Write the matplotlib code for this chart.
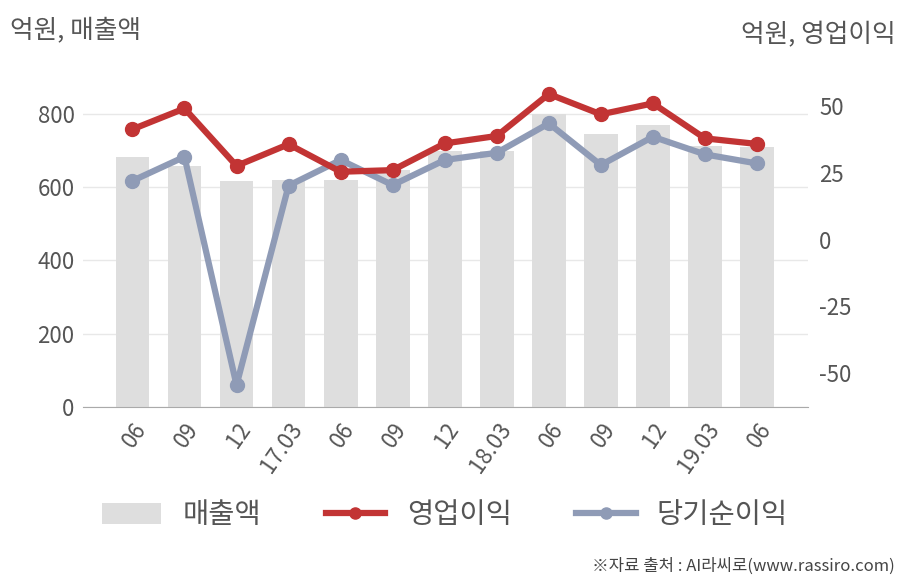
import matplotlib
matplotlib.use("Agg")
import matplotlib.pyplot as plt
from matplotlib.patches import Patch
from matplotlib.lines import Line2D

plt.rcParams['font.family'] = ['Noto Sans CJK KR', 'DejaVu Sans']
plt.rcParams['axes.unicode_minus'] = False

categories = ['06', '09', '12', '17.03', '06', '09', '12', '18.03', '06', '09', '12', '19.03', '06']
sales = [681, 656, 616, 619, 619, 645, 698, 699, 799, 744, 769, 713, 709]
op_income = [41.3, 49.1, 27.6, 35.7, 25.4, 26.0, 36.0, 38.8, 54.5, 46.9, 51.0, 37.9, 35.8]
net_income = [22.0, 31.0, -54.5, 20.2, 29.8, 20.4, 29.8, 32.5, 43.5, 27.9, 38.5, 31.9, 28.5]
left_ticks = [0, 200, 400, 600, 800]
right_ticks = [-50, -25, 0, 25, 50]

bar_color = '#dedede'
red = '#c23434'
blue = '#8f9bb6'
text_color = '#555555'

fig = plt.figure(figsize=(9.08, 5.8), dpi=100)
ax = fig.add_axes([0.0914, 0.2983, 0.7985, 0.581])
x = list(range(len(categories)))
ax.bar(x, sales, width=0.65, color=bar_color, zorder=2)
ax.set_xlim(-0.95, 12.98)
ax.set_ylim(0, 919)
ax.set_yticks(left_ticks)
ax.grid(axis='y', color='#e8e8e8', linewidth=1, zorder=0)
ax.set_axisbelow(True)
for s in ['left', 'right', 'top']:
    ax.spines[s].set_visible(False)
ax.spines['bottom'].set_color('#aaaaaa')
ax.tick_params(axis='both', length=0, labelsize=16, colors=text_color, pad=6)
ax.set_xticks(x)
ax.set_xticklabels(categories, rotation=55, ha='right', rotation_mode='anchor')
ax.tick_params(axis='x', pad=8)

ax2 = ax.twinx()
ax2.set_ylim(-62.7, 63.5)
ax2.set_yticks(right_ticks)
for s in ['left', 'right', 'top', 'bottom']:
    ax2.spines[s].set_visible(False)
ax2.tick_params(axis='y', length=0, labelsize=16, colors=text_color, pad=8)
ax2.plot(x, net_income, color=blue, linewidth=4.5, marker='o', markersize=10, zorder=3)
ax2.plot(x, op_income, color=red, linewidth=4.5, marker='o', markersize=10, zorder=4)

fig.text(0.011, 0.947, '억원, 매출액', fontsize=18.5, color=text_color, ha='left', va='center')
fig.text(0.986, 0.94, '억원, 영업이익', fontsize=18.5, color=text_color, ha='right', va='center')

handles = [
    Patch(facecolor=bar_color, edgecolor='none'),
    Line2D([0], [0], color=red, linewidth=4.5, marker='o', markersize=8),
    Line2D([0], [0], color=blue, linewidth=4.5, marker='o', markersize=8),
]
fig.legend(handles, ['매출액', '영업이익', '당기순이익'], loc='center', bbox_to_anchor=(0.49, 0.112),
           ncol=3, frameon=False, fontsize=20.5, handlelength=2.1, handleheight=0.75,
           columnspacing=2.25, handletextpad=0.75, labelcolor=text_color)

fig.text(0.985, 0.024, '※자료 출처 : AI라씨로(www.rassiro.com)', fontsize=12, color='#444444', ha='right', va='center')

fig.savefig('out.png', dpi=100)
